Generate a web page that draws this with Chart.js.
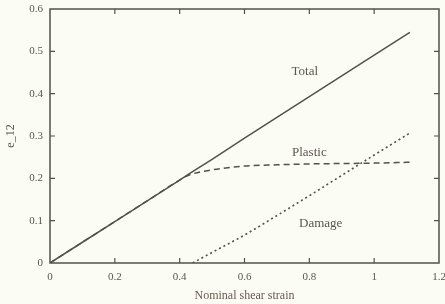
<!DOCTYPE html>
<html>
<head>
<meta charset="utf-8">
<script src="https://cdn.jsdelivr.net/npm/chart.js@4/dist/chart.umd.min.js"></script>
<style>
html,body{margin:0;padding:0;background:#fbfcf4;}
#wrap{width:445px;height:304px;position:relative;}
</style>
</head>
<body>
<div id="wrap"><canvas id="c" width="445" height="304"></canvas></div>
<script>
// Data
const strainX   = [0, 0.1, 0.2, 0.3, 0.4, 0.43, 0.5, 0.6, 0.7, 0.8, 0.9, 1.0, 1.11];
const totalY    = [0, 0.049, 0.098, 0.147, 0.196, 0.211, 0.245, 0.295, 0.344, 0.393, 0.442, 0.491, 0.545];
const plasticY  = [0, 0.049, 0.098, 0.147, 0.196, 0.208, 0.220, 0.229, 0.232, 0.234, 0.235, 0.236, 0.238];
const damageX   = [0.44, 0.5, 0.6, 0.7, 0.8, 0.9, 1.0, 1.11];
const damageY   = [0, 0.025, 0.066, 0.112, 0.159, 0.207, 0.255, 0.307];
const xTicks    = [0, 0.2, 0.4, 0.6, 0.8, 1, 1.2];
const yTicks    = [0, 0.1, 0.2, 0.3, 0.4, 0.5, 0.6];
const curveLabels = [
  {text: 'Total',   x: 0.786, y: 0.452},
  {text: 'Plastic', x: 0.80,  y: 0.262},
  {text: 'Damage',  x: 0.835, y: 0.092}
];

const pts = (xs, ys) => xs.map((x, i) => ({x: x, y: ys[i]}));
const lineCol = '#52524c';
const txtCol = '#5a5650';

const framePlugin = {
  id: 'frame',
  afterDatasetsDraw(chart) {
    const {ctx, chartArea: a, scales: {x, y}} = chart;
    ctx.save();
    ctx.strokeStyle = lineCol;
    ctx.lineWidth = 1.5;
    ctx.strokeRect(a.left, a.top, a.right - a.left, a.bottom - a.top);
    ctx.lineWidth = 1.2;
    const L = 5;
    xTicks.forEach(v => {
      if (v === 0 || v === 1.2) return;
      const px = x.getPixelForValue(v);
      ctx.beginPath();
      ctx.moveTo(px, a.bottom); ctx.lineTo(px, a.bottom - L);
      ctx.moveTo(px, a.top); ctx.lineTo(px, a.top + L);
      ctx.stroke();
    });
    yTicks.forEach(v => {
      if (v === 0 || v === 0.6) return;
      const py = y.getPixelForValue(v);
      ctx.beginPath();
      ctx.moveTo(a.left, py); ctx.lineTo(a.left + L, py);
      ctx.moveTo(a.right, py); ctx.lineTo(a.right - L, py);
      ctx.stroke();
    });
    ctx.fillStyle = txtCol;
    ctx.font = '13px "Liberation Serif", serif';
    ctx.textAlign = 'center';
    ctx.textBaseline = 'middle';
    curveLabels.forEach(l => {
      ctx.fillText(l.text, x.getPixelForValue(l.x), y.getPixelForValue(l.y));
    });
    ctx.restore();
  }
};

new Chart(document.getElementById('c'), {
  type: 'scatter',
  data: {
    datasets: [
      {label: 'Total', data: pts(strainX, totalY), showLine: true, borderColor: lineCol, borderWidth: 1.5, pointRadius: 0, tension: 0},
      {label: 'Plastic', data: pts(strainX, plasticY), showLine: true, borderColor: lineCol, borderWidth: 1.5, borderDash: [6, 4], pointRadius: 0, cubicInterpolationMode: 'monotone'},
      {label: 'Damage', data: pts(damageX, damageY), showLine: true, borderColor: lineCol, borderWidth: 1.6, borderDash: [2, 3], pointRadius: 0, cubicInterpolationMode: 'monotone'}
    ]
  },
  options: {
    responsive: false,
    animation: false,
    layout: {padding: {top: 9, right: 6, left: 0, bottom: 0}},
    plugins: {legend: {display: false}, tooltip: {enabled: false}},
    scales: {
      x: {
        type: 'linear', min: 0, max: 1.2,
        afterBuildTicks: s => { s.ticks = xTicks.map(v => ({value: v})); },
        afterFit: s => { s.height = 41; s.paddingLeft = 0; s.paddingRight = 0; },
        grid: {display: false, drawTicks: false},
        border: {display: false},
        ticks: {color: txtCol, padding: 8, maxRotation: 0, font: {family: '"Liberation Serif", serif', size: 11},
          callback: v => String(v)},
        title: {display: true, text: 'Nominal shear strain', color: '#6a5a50', padding: {top: 0, bottom: 1},
          font: {family: '"Liberation Serif", serif', size: 12}}
      },
      y: {
        type: 'linear', min: 0, max: 0.6,
        afterBuildTicks: s => { s.ticks = yTicks.map(v => ({value: v})); },
        afterFit: s => { s.width = 50; s.paddingTop = 0; s.paddingBottom = 0; },
        grid: {display: false, drawTicks: false},
        border: {display: false},
        ticks: {color: txtCol, padding: 7, font: {family: '"Liberation Serif", serif', size: 11},
          callback: v => String(v)},
        title: {display: true, text: 'e_12', color: txtCol, padding: {top: 4, bottom: 0},
          font: {family: '"Liberation Serif", serif', size: 12}}
      }
    }
  },
  plugins: [framePlugin]
});
</script>
</body>
</html>
